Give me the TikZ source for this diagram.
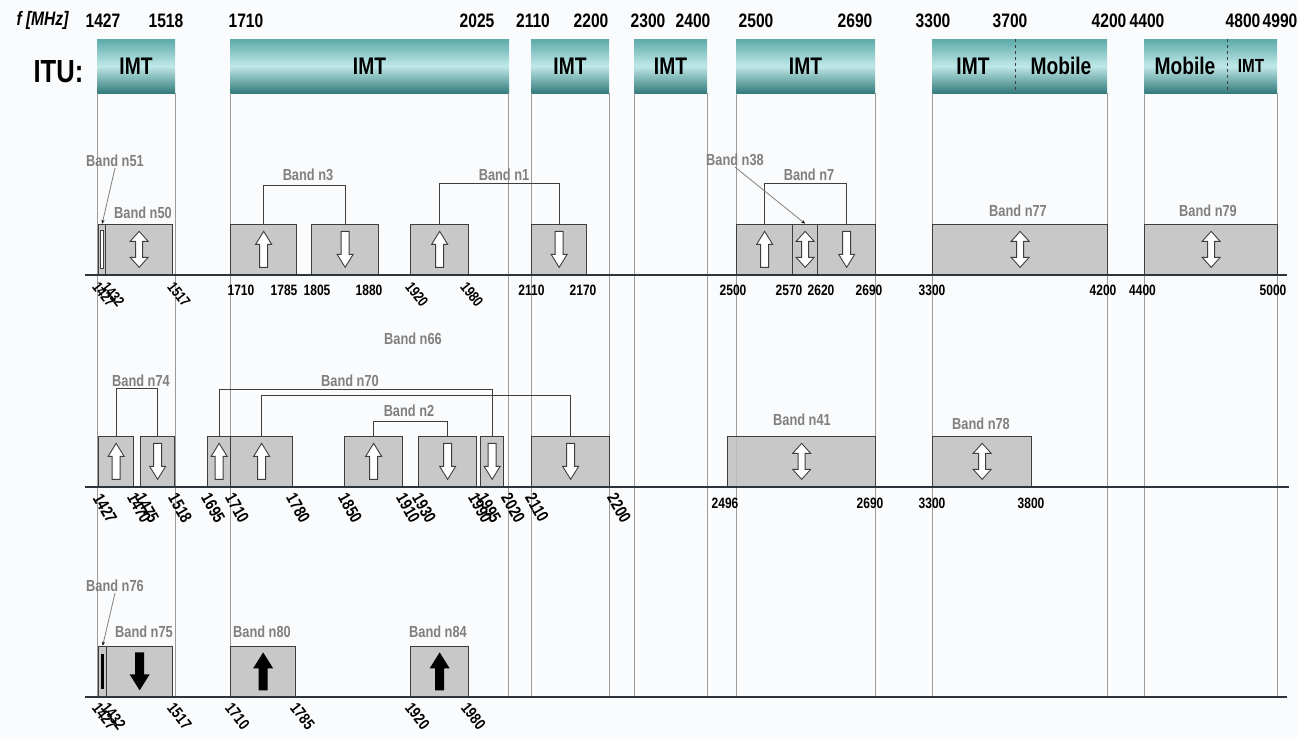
\documentclass[tikz,border=0pt]{standalone}
\usepackage{fontspec}
\setmainfont{Liberation Sans}[FakeStretch=0.8]
\usetikzlibrary{arrows.meta}
\definecolor{itutop}{RGB}{92,170,170}
\definecolor{itumid}{RGB}{192,232,232}
\definecolor{itubot}{RGB}{52,124,124}
\definecolor{bandfill}{RGB}{192,192,192}
\definecolor{bandline}{RGB}{62,62,62}
\definecolor{lblgray}{RGB}{128,128,128}
\definecolor{gridgray}{RGB}{155,155,155}
\definecolor{axisdark}{RGB}{45,52,60}
\definecolor{bgwhite}{RGB}{250,251,252}

\begin{document}
\begin{tikzpicture}[x=1pt,y=-1pt,
  hdr/.style={top color=itutop,bottom color=itubot,middle color=itumid,minimum height=54,inner sep=0,font=\fontsize{24}{26}\selectfont\bfseries},
  band/.style={draw=bandline,fill=bandfill,fill opacity=0.85,line width=1.3pt,minimum height=50,inner sep=0,anchor=south west},
  bandlbl/.style={text=lblgray,font=\fontsize{16}{18}\selectfont\bfseries,inner sep=1pt},
  freq/.style={font=\fontsize{19.5}{21}\selectfont\bfseries},
  ticklbl/.style={font=\fontsize{15}{17}\selectfont\bfseries,inner sep=1pt},
  rticklbl/.style={ticklbl,rotate=-52,anchor=west},
  brk/.style={draw=bandline,line width=1.1pt},
  leader/.style={draw=lblgray,line width=0.8pt,-{Stealth[length=4pt,width=3pt,black]}},
  vline/.style={gridgray,line width=0.7pt},
  axisln/.style={axisdark,line width=2.4pt},
  arrline/.style={draw=bandline,fill=white,line width=0.9pt},
  hup/.pic={\draw[arrline] (0,-18) -- (8,-5) -- (4,-5) -- (4,18) -- (-4,18) -- (-4,-5) -- (-8,-5) -- cycle;},
  hdown/.pic={\draw[arrline] (0,18) -- (8,5) -- (4,5) -- (4,-18) -- (-4,-18) -- (-4,5) -- (-8,5) -- cycle;},
  hboth/.pic={\draw[arrline] (0,-18) -- (9,-8) -- (3.5,-8) -- (3.5,8) -- (9,8) -- (0,18) -- (-9,8) -- (-3.5,8) -- (-3.5,-8) -- (-9,-8) -- cycle;},
  fup/.pic={\fill[black] (0,-19) -- (10,-3) -- (4.5,-3) -- (4.5,19) -- (-4.5,19) -- (-4.5,-3) -- (-10,-3) -- cycle;},
  fdown/.pic={\fill[black] (0,19) -- (10,3) -- (4.5,3) -- (4.5,-19) -- (-4.5,-19) -- (-4.5,3) -- (-10,3) -- cycle;},
  thinboth/.pic={\draw[arrline,line width=0.6pt] (-1.5,-19) rectangle (1.5,19);},
  thindown/.pic={\draw[black,line width=2.4pt] (0,-17) -- (0,18);}]
  \useasboundingbox[fill=bgwhite] (0,0) rectangle (1298,737);

  % frequency scale
  \node[freq,font=\fontsize{19.5}{21}\selectfont\bfseries\itshape] (fmhz) at (42.5,20.5) {f [MHz]};
  \foreach \f/\x in {1427/103,1518/166,1710/246,2025/477,2110/533,2200/591,2300/648,2400/693,2500/756,2690/855,3300/933,3700/1010,4200/1109,4400/1147,4800/1243,4990/1280}
    \node[freq] (f\f) at (\x,20.5) {\f};

  % ITU allocations
  \node[font=\fontsize{32}{34}\selectfont\bfseries] (itu) at (58.5,72) {ITU:};
  \node[hdr,minimum width=78] (imt1) at (136,66) {IMT};
  \node[hdr,minimum width=279] (imt2) at (369.5,66) {IMT};
  \node[hdr,minimum width=78] (imt3) at (570,66) {IMT};
  \node[hdr,minimum width=73] (imt4) at (670.5,66) {IMT};
  \node[hdr,minimum width=139] (imt5) at (805.5,66) {IMT};
  \node[hdr,minimum width=175] (imt6) at (1019.5,66) {};
  \node[hdr,minimum width=133] (imt7) at (1210.5,66) {};
  \node[font=\fontsize{24}{26}\selectfont\bfseries] (imt6a) at (973,66) {IMT};
  \node[font=\fontsize{24}{26}\selectfont\bfseries] (mob6) at (1061,66) {Mobile};
  \node[font=\fontsize{24}{26}\selectfont\bfseries] (mob7) at (1185,66) {Mobile};
  \node[font=\fontsize{19}{21}\selectfont\bfseries] (imt7a) at (1251,66) {IMT};
  \draw[dashed,bandline,line width=0.9pt] (1015,39) -- (1015,93);
  \draw[dashed,bandline,line width=0.9pt] (1227,39) -- (1227,93);

  \foreach \vx in {97,175,230,508,531,609,634,707,736,875,932,1107,1144,1277}
    \draw[vline] (\vx,93) -- (\vx,697);

  % Row 1
  \node[band,minimum width=7] (n51) at (98,275) {};
  \node[band,minimum width=67] (n50) at (105,275) {};
  \node[band,minimum width=66] (n3u) at (230,275) {};
  \node[band,minimum width=67] (n3d) at (311,275) {};
  \node[band,minimum width=58] (n1u) at (410,275) {};
  \node[band,minimum width=55] (n1d) at (531,275) {};
  \node[band,minimum width=56] (n7u) at (736,275) {};
  \node[band,minimum width=25] (n38) at (792,275) {};
  \node[band,minimum width=58] (n7d) at (817,275) {};
  \node[band,minimum width=175] (n77) at (932,275) {};
  \node[band,minimum width=133] (n79) at (1144,275) {};
  \pic at (n51) {thinboth};
  \pic at (n50) {hboth};
  \pic at (n3u) {hup};
  \pic at (n3d) {hdown};
  \pic at (n1u) {hup};
  \pic at (n1d) {hdown};
  \pic at (n7u) {hup};
  \pic at (n38) {hboth};
  \pic at (n7d) {hdown};
  \pic at (n77) {hboth};
  \pic at (n79) {hboth};
  \draw[brk] (n3u.north) -- ++(0,-38) -| (n3d.north);
  \draw[brk] (n1u.north) -- ++(0,-40) -| (n1d.north);
  \draw[brk] (n7u.north) -- ++(0,-40) -| (n7d.north);
  \node[bandlbl] (l51) at (115,161) {Band n51};
  \node[bandlbl] (l50) at (143,213) {Band n50};
  \node[bandlbl] (l3) at (308,175) {Band n3};
  \node[bandlbl] (l1) at (504,175) {Band n1};
  \node[bandlbl] (l38) at (735,160) {Band n38};
  \node[bandlbl] (l7) at (809,175) {Band n7};
  \node[bandlbl] (l77) at (1018,211) {Band n77};
  \node[bandlbl] (l79) at (1208,211) {Band n79};
  \draw[leader] (l51.south) -- (n51.north);
  \draw[leader] (l38.south) -- (n38.north);
  \draw[axisln] (85,275) -- (1287,275);
  \foreach \f/\x in {1427/95,1432/104,1517/170,1920/408,1980/463}
    \node[rticklbl] (a\f) at (\x,283) {\f};
  \foreach \f/\x in {1710/241,1785/284,1805/317,1880/369,2110/531.5,2170/583,2500/733,2570/789,2620/821,2690/869,3300/932,4200/1103,4400/1142.5,5000/1273}
    \node[ticklbl] (a\f) at (\x,290) {\f};

  % Row 2
  \node[band,minimum width=35] (n74u) at (98,487) {};
  \node[band,minimum width=34] (n74d) at (140,487) {};
  \node[band,minimum width=23] (n70u) at (207,487) {};
  \node[band,minimum width=62] (n66u) at (230,487) {};
  \node[band,minimum width=58] (n2u) at (344,487) {};
  \node[band,minimum width=58] (n2d) at (418,487) {};
  \node[band,minimum width=23] (n70d) at (480,487) {};
  \node[band,minimum width=78] (n66d) at (531,487) {};
  \node[band,minimum width=148] (n41) at (727,487) {};
  \node[band,minimum width=99] (n78) at (932,487) {};
  \pic at (n74u) {hup};
  \pic at (n74d) {hdown};
  \pic at (n70u) {hup};
  \pic at (n66u) {hup};
  \pic at (n2u) {hup};
  \pic at (n2d) {hdown};
  \pic at (n70d) {hdown};
  \pic at (n66d) {hdown};
  \pic at (n41) {hboth};
  \pic at (n78) {hboth};
  \draw[brk] (n74u.north) -- ++(0,-47) -| (n74d.north);
  \draw[brk] (n70u.north) -- ++(0,-46) -| (n70d.north);
  \draw[brk] (n66u.north) -- ++(0,-40) -| (n66d.north);
  \draw[brk] (n2u.north) -- ++(0,-14) -| (n2d.north);
  \node[bandlbl] (l66) at (413,339) {Band n66};
  \node[bandlbl] (l74) at (141,381) {Band n74};
  \node[bandlbl] (l70) at (350,381) {Band n70};
  \node[bandlbl] (l2) at (409,411) {Band n2};
  \node[bandlbl] (l41) at (802,420) {Band n41};
  \node[bandlbl] (l78) at (981,424) {Band n78};
  \draw[axisln] (85,487) -- (1289,487);
  \foreach \f/\x in {1427/97,1470/131,1475/139,1518/172,1695/205,1710/229,1780/290,1850/342,1910/400,1930/416,1990/472,1995/481,2020/505,2110/529,2200/611}
    \node[rticklbl,rotate=-8,font=\fontsize{17}{19}\selectfont\bfseries] (b\f) at (\x,494) {\f};
  \foreach \f/\x in {2496/725,2690/870,3300/932,3800/1031}
    \node[ticklbl] (b\f) at (\x,503) {\f};

  % Row 3
  \node[band,minimum width=8] (n76) at (98,697) {};
  \node[band,minimum width=66] (n75) at (106,697) {};
  \node[band,minimum width=65] (n80) at (230,697) {};
  \node[band,minimum width=58] (n84) at (410,697) {};
  \pic at (n76) {thindown};
  \pic at (n75) {fdown};
  \pic at (n80) {fup};
  \pic at (n84) {fup};
  \node[bandlbl] (l76) at (115,586) {Band n76};
  \node[bandlbl] (l75) at (144,632) {Band n75};
  \node[bandlbl] (l80) at (262,632) {Band n80};
  \node[bandlbl] (l84) at (438,632) {Band n84};
  \draw[leader] (l76.south) -- (n76.north);
  \draw[axisln] (85,697) -- (1287,697);
  \foreach \f/\x in {1427/95,1432/104,1517/170,1710/228,1785/293,1920/408,1980/464}
    \node[rticklbl,font=\fontsize{16}{18}\selectfont\bfseries] (c\f) at (\x,704) {\f};
\end{tikzpicture}
\end{document}
